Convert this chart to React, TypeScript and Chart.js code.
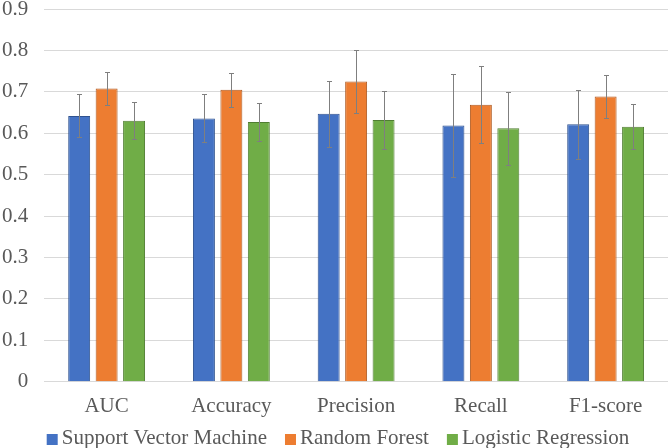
import React, { useEffect, useRef } from "react";
import { Chart, registerables } from "chart.js";

Chart.register(...registerables);

const categories = ["AUC", "Accuracy", "Precision", "Recall", "F1-score"];
const seriesNames = ["Support Vector Machine", "Random Forest", "Logistic Regression"];
const svmValues = [0.642, 0.636, 0.647, 0.619, 0.622];
const rfValues = [0.708, 0.705, 0.725, 0.669, 0.689];
const lrValues = [0.630, 0.627, 0.632, 0.612, 0.616];
const svmErrors = [0.052, 0.058, 0.080, 0.124, 0.083];
const rfErrors = [0.039, 0.041, 0.075, 0.093, 0.052];
const lrErrors = [0.045, 0.046, 0.071, 0.088, 0.054];
const yTicks = [0, 0.1, 0.2, 0.3, 0.4, 0.5, 0.6, 0.7, 0.8, 0.9];

const fillColors = ["#4472C4", "#ED7D31", "#70AD47"];
const borderColors = ["#2F528F", "#AE5A21", "#507E32"];
const FONT = "'Liberation Serif', 'Times New Roman', serif";
const TEXT = "#595959";

const errorBarPlugin = {
  id: "errorBars",
  afterDatasetsDraw(chart: any) {
    const ctx = chart.ctx;
    const yScale = chart.scales.y;
    ctx.save();
    ctx.strokeStyle = "#7F7F7F";
    ctx.lineWidth = 1;
    chart.data.datasets.forEach((ds: any, i: number) => {
      const meta = chart.getDatasetMeta(i);
      meta.data.forEach((el: any, j: number) => {
        const v = ds.data[j];
        const e = ds.errors[j];
        const x = Math.round(el.x) + 0.5;
        const yT = Math.round(yScale.getPixelForValue(v + e)) + 0.5;
        const yB = Math.round(yScale.getPixelForValue(v - e)) + 0.5;
        ctx.beginPath();
        ctx.moveTo(x, yT);
        ctx.lineTo(x, yB);
        ctx.moveTo(x - 2.5, yT);
        ctx.lineTo(x + 2.5, yT);
        ctx.moveTo(x - 2.5, yB);
        ctx.lineTo(x + 2.5, yB);
        ctx.stroke();
      });
    });
    ctx.restore();
  },
};

const legendPlugin = {
  id: "customLegend",
  afterDraw(chart: any) {
    const ctx = chart.ctx;
    ctx.save();
    ctx.font = "21px " + FONT;
    ctx.textBaseline = "alphabetic";
    ctx.textAlign = "left";
    const box = 11;
    const boxGap = 4;
    const itemGap = 18;
    const items = chart.data.datasets.map((ds: any) => ({
      label: ds.label,
      color: ds.backgroundColor,
      w: ctx.measureText(ds.label).width,
    }));
    const total = items.reduce((s: number, it: any) => s + box + boxGap + it.w, 0) + itemGap * (items.length - 1);
    let x = chart.width / 2 + 4 - total / 2;
    const baseline = 444;
    items.forEach((it: any) => {
      ctx.fillStyle = it.color;
      ctx.fillRect(x, baseline - 10, box, box);
      x += box + boxGap;
      ctx.fillStyle = TEXT;
      ctx.fillText(it.label, x, baseline);
      x += it.w + itemGap;
    });
    ctx.restore();
  },
};

export default function App() {
  const ref = useRef<HTMLCanvasElement>(null);
  useEffect(() => {
    document.body.style.margin = "0";
    const values = [svmValues, rfValues, lrValues];
    const errors = [svmErrors, rfErrors, lrErrors];
    const chart = new Chart(ref.current!, {
      type: "bar",
      data: {
        labels: categories,
        datasets: seriesNames.map((name, i) => ({
          label: name,
          data: values[i],
          errors: errors[i],
          backgroundColor: fillColors[i],
          borderColor: borderColors[i],
          borderWidth: 1,
          categoryPercentage: 0.66,
          barPercentage: 0.8,
        })) as any,
      },
      options: {
        animation: false,
        responsive: false,
        maintainAspectRatio: false,
        layout: { padding: { top: 0, right: 0, left: 2, bottom: 17 } },
        plugins: {
          tooltip: { enabled: false },
          legend: { display: false },
        },
        scales: {
          x: {
            grid: { display: false, drawTicks: false },
            border: { display: true, color: "#D9D9D9" },
            ticks: {
              font: { family: FONT, size: 21, lineHeight: 1.2 },
              color: TEXT,
              padding: 12,
            },
          },
          y: {
            min: 0,
            max: 0.9,
            afterBuildTicks: (axis: any) => {
              axis.ticks = yTicks.map((v) => ({ value: v }));
            },
            grid: { color: "#D9D9D9", drawTicks: true, tickLength: 16, tickColor: "rgba(0,0,0,0)" },
            border: { display: false },
            ticks: {
              font: { family: FONT, size: 21, lineHeight: 0.86 },
              color: TEXT,
              padding: 0,
              callback: (v: any) => String(+Number(v).toFixed(1)),
            },
          },
        },
      },
      plugins: [errorBarPlugin, legendPlugin],
    });
    return () => chart.destroy();
  }, []);
  return <canvas ref={ref} width={668} height={448} style={{ display: "block" }} />;
}
